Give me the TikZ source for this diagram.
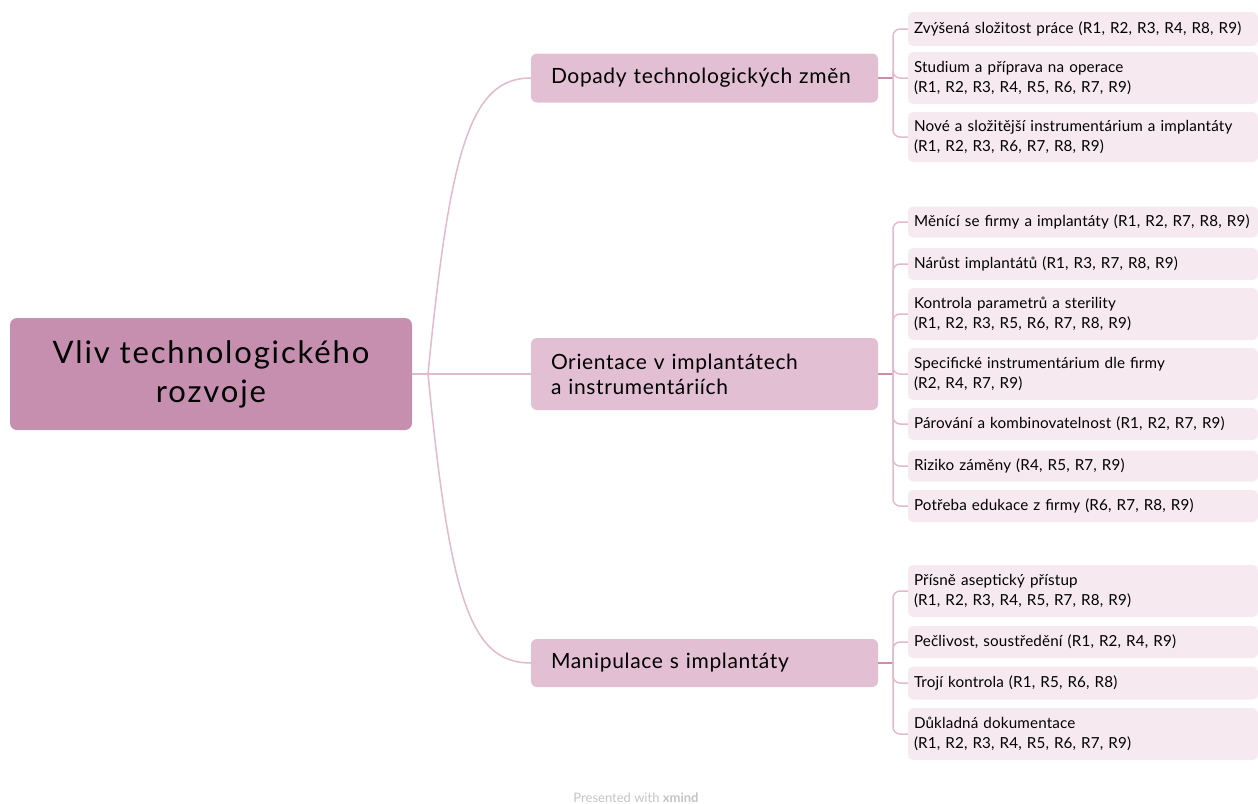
\documentclass[tikz,border=0pt]{standalone}
\usepackage{fontspec}
\setmainfont{Lato}
\newfontfamily\rootfont[LetterSpace=6]{Lato}
\newfontfamily\branchfont[LetterSpace=3]{Lato}
\newfontfamily\leaffont[LetterSpace=1]{Lato}
\definecolor{rootc}{HTML}{C68FB0}
\definecolor{brc}{HTML}{E2BFD3}
\definecolor{leafc}{HTML}{F6EAF0}
\definecolor{linec}{HTML}{E2BACD}
\definecolor{stubc}{HTML}{C98DAE}
\definecolor{footc}{HTML}{C4C4C4}
\begin{document}
\begin{tikzpicture}[x=1pt,y=-1pt,
  rootbox/.style={fill=rootc, rounded corners=7, minimum width=402, minimum height=112, align=center, inner sep=0, font=\rootfont\fontsize{31}{39}\selectfont},
  branchbox/.style={fill=brc, rounded corners=6, minimum width=347, text width=307, inner xsep=20, inner ysep=0, align=left, font=\branchfont\fontsize{21}{25}\selectfont},
  leafbox/.style={fill=leafc, rounded corners=5, minimum width=350, text width=338, inner xsep=6, inner ysep=0, align=left, font=\leaffont\fontsize{15.2}{20}\selectfont},
  conn/.style={draw=linec, line width=1.5},
  stub/.style={draw=stubc, line width=1.5},
  leafconn/.style={draw=linec, line width=1.5, rounded corners=7}]
\useasboundingbox (0,0) rectangle (1258,803);
\node[rootbox] (root) at (211,374) {Vliv technologického\\rozvoje};
\node[branchbox, minimum height=49] (b1) at (704.5,78) {Dopady technologických změn};
\node[branchbox, minimum height=72] (b2) at (704.5,374) {Orientace v implantátech\\a instrumentáriích};
\node[branchbox, minimum height=48] (b3) at (704.5,663) {Manipulace s implantáty};
% leaves group 1
\node[leafbox, minimum height=34] (l11) at (1083,29) {Zvýšená složitost práce (R1, R2, R3, R4, R8, R9)};
\node[leafbox, minimum height=52] (l12) at (1083,78) {Studium a příprava na operace\\(R1, R2, R3, R4, R5, R6, R7, R9)};
\node[leafbox, minimum height=50] (l13) at (1083,137) {Nové a složitější instrumentárium a implantáty\\(R1, R2, R3, R6, R7, R8, R9)};
% leaves group 2
\node[leafbox, minimum height=31] (l21) at (1083,222) {\mbox{Měnící se firmy a implantáty (R1, R2, R7, R8, R9)}};
\node[leafbox, minimum height=32] (l22) at (1083,264) {Nárůst implantátů (R1, R3, R7, R8, R9)};
\node[leafbox, minimum height=52] (l23) at (1083,314) {Kontrola parametrů a sterility\\(R1, R2, R3, R5, R6, R7, R8, R9)};
\node[leafbox, minimum height=52] (l24) at (1083,374) {Specifické instrumentárium dle firmy\\(R2, R4, R7, R9)};
\node[leafbox, minimum height=32] (l25) at (1083,424) {Párování a kombinovatelnost (R1, R2, R7, R9)};
\node[leafbox, minimum height=31] (l26) at (1083,466) {Riziko záměny (R4, R5, R7, R9)};
\node[leafbox, minimum height=32] (l27) at (1083,506) {Potřeba edukace z firmy (R6, R7, R8, R9)};
% leaves group 3
\node[leafbox, minimum height=52] (l31) at (1083,591) {Přísně aseptický přístup\\(R1, R2, R3, R4, R5, R7, R8, R9)};
\node[leafbox, minimum height=32] (l32) at (1083,642) {Pečlivost, soustředění (R1, R2, R4, R9)};
\node[leafbox, minimum height=33] (l33) at (1083,683) {Trojí kontrola (R1, R5, R6, R8)};
\node[leafbox, minimum height=52] (l34) at (1083,734) {Důkladná dokumentace\\(R1, R2, R3, R4, R5, R6, R7, R9)};
% root connectors
\coordinate (rj) at (428,374);
\draw[conn] (root.east) -- (rj);
\draw[conn] (rj) .. controls (450,150) and (470,78) .. (b1.west);
\draw[conn] (rj) -- (b2.west);
\draw[conn] (rj) .. controls (450,598) and (470,663) .. (b3.west);
% hubs
\coordinate (h1) at (893,78);
\coordinate (h2) at (893,374);
\coordinate (h3) at (893,663);
\draw[stub] (b1.east) -- (h1);
\draw[stub] (b2.east) -- (h2);
\draw[stub] (b3.east) -- (h3);
\foreach \l in {l11,l12,l13} \draw[leafconn] (h1) |- (\l.west);
\foreach \l in {l21,l22,l23,l24,l25,l26,l27} \draw[leafconn] (h2) |- (\l.west);
\foreach \l in {l31,l32,l33,l34} \draw[leafconn] (h3) |- (\l.west);
\node[text=footc, font=\fontsize{13}{15}\selectfont] (foot) at (636,798) {Presented with \textbf{xmind}};
\end{tikzpicture}
\end{document}
